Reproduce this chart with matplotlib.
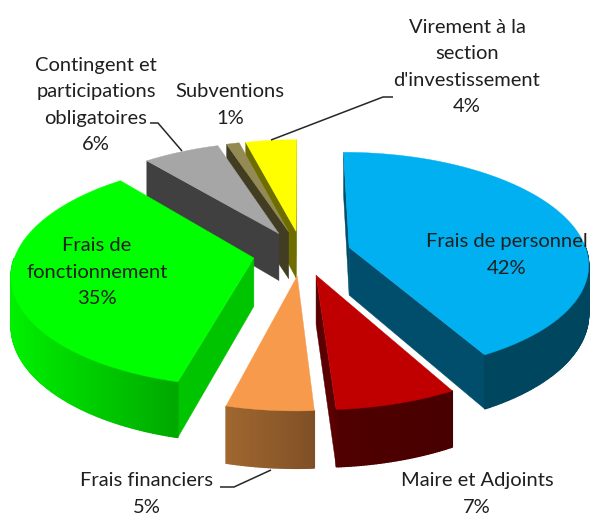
#!/usr/bin/env python3
# -*- coding: utf-8 -*-

import numpy as np
import matplotlib
matplotlib.use("Agg")
import matplotlib.pyplot as plt

labels = ["Frais de personnel", "Maire et Adjoints", "Frais financiers",
          "Frais de\nfonctionnement", "Contingent et\nparticipations\nobligatoires",
          "Subventions", "Virement à la\nsection\nd'investissement"]
values = [42, 7, 5, 35, 6, 1, 4]

top_colors = ["#00B0F0", "#C00000", "#F79A4B", "#00FF00", "#A6A6A6", "#948A54", "#FFFF00"]
cut_colors = ["#004E6C", "#5A0000", "#7F5026", "#00C400", "#404040", "#423C22", "#6E6E00"]
wall_left = ["#00465F", "#500000", "#A0672F", "#00F000", "#404040", "#423C22", "#6E6E00"]
wall_right = ["#00465F", "#480000", "#7F5026", "#00A800", "#404040", "#423C22", "#6E6E00"]

# positions of the text, in pixels
label_xy = [(507, 255), (477, 494), (147, 494), (97, 272), (96, 105), (230, 105), (467, 67)]
leaders = [
    ([271, 383, 393], [140, 97, 97]),
    ([182, 158, 150], [151, 123, 123]),
    ([271, 234, 220], [470, 487, 487]),
]

# perspective of the pie
CX, CY, HORIZON = 302, 253, -550
DIST = 1745
RADIUS = 238
EXPLODE = 49
DEPTH = 48


def project(X, v, z=0):
    s = DIST / (DIST - v)
    return CX + X * s, HORIZON + (CY - HORIZON + z) * s


def rim(theta, mid):
    t = np.radians(theta)
    m = np.radians(mid)
    X = EXPLODE * np.sin(m) + RADIUS * np.sin(t)
    v = -EXPLODE * np.cos(m) - RADIUS * np.cos(t)
    return X, v


def apex(mid):
    m = np.radians(mid)
    return EXPLODE * np.sin(m), -EXPLODE * np.cos(m)


def draw_cut(ax, theta, other, mid, color):
    # face under a straight edge, only if it turns to the viewer
    a = project(*apex(mid))
    b = project(*rim(theta, mid))
    c = project(*rim(other, mid))
    ex, ey = b[0] - a[0], b[1] - a[1]
    side_down = ex * 1.0
    side_in = ex * (c[1] - a[1]) - ey * (c[0] - a[0])
    if side_down * side_in >= 0:
        return
    a2 = project(*apex(mid), DEPTH)
    b2 = project(*rim(theta, mid), DEPTH)
    ax.fill([a[0], b[0], b2[0], a2[0]], [a[1], b[1], b2[1], a2[1]],
            color=color, lw=0.3)


def draw_slice(ax, start, stop, i):
    mid = (start + stop) / 2
    thetas = np.linspace(start, stop, max(int(stop - start) * 2, 4))

    draw_cut(ax, start, stop, mid, cut_colors[i])
    draw_cut(ax, stop, start, mid, cut_colors[i])

    # outer wall, cut in small quads so the colour can shade along it
    c1 = np.array(matplotlib.colors.to_rgb(wall_left[i]))
    c2 = np.array(matplotlib.colors.to_rgb(wall_right[i]))
    X, v = rim(thetas, mid)
    x1, y1 = project(X, v)
    x2, y2 = project(X, v, DEPTH)
    xmin, xmax = x1.min(), x1.max()
    for k in range(len(thetas) - 1):
        if np.cos(np.radians((thetas[k] + thetas[k + 1]) / 2)) > 0:
            continue
        f = ((x1[k] + x1[k + 1]) / 2 - xmin) / (xmax - xmin)
        ax.fill([x1[k], x1[k + 1], x2[k + 1], x2[k]],
                [y1[k], y1[k + 1], y2[k + 1], y2[k]],
                color=c1 + (c2 - c1) * f, lw=1.0)

    ax_, ay_ = project(*apex(mid))
    ax.fill(np.r_[ax_, x1], np.r_[ay_, y1], color=top_colors[i], lw=0.3)


fig = plt.figure(figsize=(5.9, 5.16), dpi=100)
ax = fig.add_axes([0, 0, 1, 1])
ax.set_xlim(0, 590)
ax.set_ylim(516, 0)
ax.axis("off")

edges = np.r_[0, np.cumsum(values)] / sum(values) * 360
mids = (edges[:-1] + edges[1:]) / 2

# back slices first
for i in np.argsort(-np.cos(np.radians(mids))):
    draw_slice(ax, edges[i], edges[i + 1], i)

for xs, ys in leaders:
    ax.plot(xs, ys, color="#262626", lw=1.1, solid_capstyle="butt")

for name, val, (x, y) in zip(labels, values, label_xy):
    ax.text(x, y, "%s\n%d%%" % (name, val), ha="center", va="center",
            family="Lato", fontsize=14.5, color="#1F1F1F", linespacing=1.67)

fig.savefig("out.png", dpi=100)
